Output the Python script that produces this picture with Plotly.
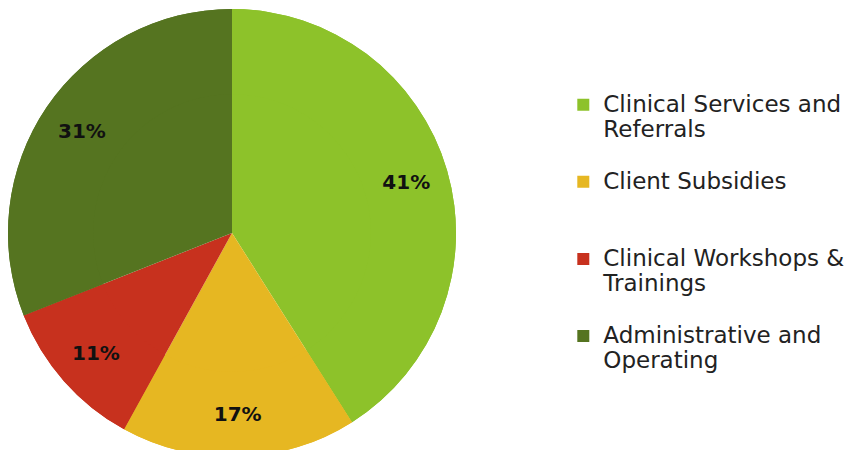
import textwrap
import plotly.graph_objects as go

categories = ["Clinical Services and Referrals", "Client Subsidies",
              "Clinical Workshops & Trainings", "Administrative and Operating"]
values = [41, 17, 11, 31]
colors = ["#8DC22A", "#E6B722", "#C7311E", "#557420"]


def legend_label(text, size=23, lines=3):
    parts = textwrap.wrap(text, width=21)
    parts = [f"<span style='font-size:{size}px'>{p}</span>" for p in parts]
    while len(parts) < lines:
        parts.append(" ")
    return "<br>".join(parts)


labels = [legend_label(c) for c in categories]
domain = dict(x=[0, 448 / 853], y=[0, 1])

# full pie (carries the legend)
base = go.Pie(
    labels=labels, values=values, sort=False, direction="clockwise", rotation=0,
    marker=dict(colors=colors, line=dict(width=0)),
    textinfo="none", domain=domain, hoverinfo="skip", showlegend=True,
)
# ring overlay in identical colours, used to place the percentage labels out near the rim
ring = go.Pie(
    labels=labels, values=values, sort=False, direction="clockwise", rotation=0,
    hole=0.62,
    marker=dict(colors=colors, line=dict(width=0)),
    texttemplate="%{value}%", textposition="inside",
    insidetextorientation="horizontal",
    textfont=dict(family="DejaVu Sans", size=20, color="#111111", weight="bold"),
    domain=domain, hoverinfo="skip", showlegend=False,
)

fig = go.Figure([base, ring])

fig.update_layout(
    width=853, height=450,
    margin=dict(l=0, r=0, t=0, b=0),
    paper_bgcolor="white",
    plot_bgcolor="white",
    showlegend=True,
    legend=dict(
        x=0.651, y=0.827, xanchor="left", yanchor="top",
        font=dict(family="DejaVu Sans", size=19, color="#222222"),
        valign="top",
        tracegroupgap=0,
    ),
)

fig.write_html("out.html")
